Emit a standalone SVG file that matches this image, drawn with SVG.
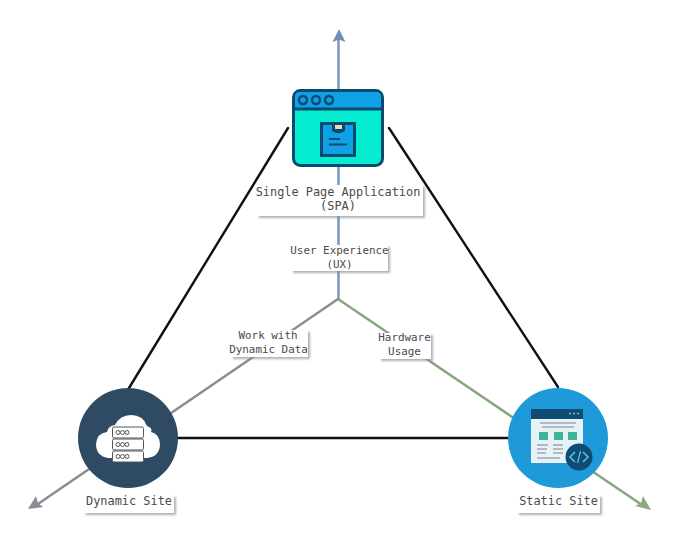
<svg xmlns="http://www.w3.org/2000/svg" width="683" height="543" viewBox="0 0 683 543">
<defs>
<filter id="sh" x="-10%" y="-20%" width="125%" height="150%"><feDropShadow dx="2" dy="2" stdDeviation="1" flood-color="#8a8f99" flood-opacity="0.7"/></filter>
</defs>
<style>
.lab{fill:#fff;filter:url(#sh)}
text{font-family:"DejaVu Sans Mono","Liberation Mono",monospace;font-size:10.900px;fill:#4a4a4a;text-anchor:middle}
text.big{font-size:11.900px}
.blk{stroke:#111;stroke-width:2.400;fill:none;stroke-linecap:round}
</style>
<rect width="683" height="543" fill="#fff"/>
<g id="connectors" fill="none">
<path class="blk" d="M288 128 L129 388"/>
<path class="blk" d="M389 128 L558 387"/>
<path class="blk" d="M178 438 L508 438"/>
<path d="M338.500 300 V38" stroke="#7f9cbb" stroke-width="2.600"/>
<path d="M338 299 L35 506" stroke="#8b8b93" stroke-width="2.400"/>
<path d="M338 299 L645 507" stroke="#86a47e" stroke-width="2.400"/>
<path d="M339 29 L345.500 42 L339 39.500 L332.500 42Z" fill="#6f8fb0"/>
<path d="M28 509 L43 507 L38 503 L36 496Z" fill="#8b8b93"/>
<path d="M651 510 L643 496 L641 503 L635 506Z" fill="#8fa884"/>
</g>
<g id="spa">
<rect x="293.500" y="90.500" width="89" height="75" rx="7" fill="#05ecd0" stroke="#0b4a70" stroke-width="3"/>
<path d="M295 108 V97 Q295 92 300 92 H376 Q381 92 381 97 V108Z" fill="#10a0e6"/>
<path d="M294 109 H382" stroke="#0b4a70" stroke-width="3"/>
<g fill="none" stroke="#0b4a70" stroke-width="2.500"><circle cx="303" cy="100" r="4"/><circle cx="316" cy="100" r="4"/><circle cx="329" cy="100" r="4"/></g>
<rect x="321.500" y="123.500" width="33" height="32" fill="#10a0e6" stroke="#0b4a70" stroke-width="3"/>
<path d="M332 123 H345 V131 L341 133 H336 L332 131Z" fill="#0b4a70"/>
<rect x="335" y="125" width="7" height="4" fill="#e8dcae"/>
<path d="M329 139 H340 M329 144.500 H347" stroke="#0b4a70" stroke-width="2"/>
<rect class="lab" x="257" y="185" width="166" height="31"/>
<text class="big" x="338" y="196">Single Page Application</text>
<text class="big" x="338" y="210">(SPA)</text>
</g>
<g id="ux">
<rect class="lab" x="291" y="245" width="97" height="26"/>
<text x="339.500" y="254">User Experience</text>
<text x="339.500" y="268">(UX)</text>
</g>
<g id="work">
<rect class="lab" x="231" y="330" width="77" height="27"/>
<text x="268" y="339">Work with</text>
<text x="268.500" y="353">Dynamic Data</text>
</g>
<g id="hardware">
<rect class="lab" x="379" y="333" width="52" height="26"/>
<text x="404.500" y="341">Hardware</text>
<text x="404.500" y="355">Usage</text>
</g>
<g id="dynamic">
<circle cx="128" cy="438" r="50" fill="#2f4b63"/>
<path d="M108 458 Q96 456 96 444 Q97 433 107 432 Q108 426 115 425 Q120 415 131 415 Q143 415 147 426 Q153 428 151 432 Q160 434 160 445 Q159 457 147 458Z" fill="#fff"/>
<g fill="#fff" stroke="#555" stroke-width="1"><rect x="112.500" y="427" width="31" height="11" rx="1.500"/><rect x="112.500" y="439" width="31" height="11" rx="1.500"/><rect x="112.500" y="451" width="31" height="11" rx="1.500"/>
<circle cx="118" cy="432.500" r="2"/><circle cx="122.500" cy="432.500" r="2"/><circle cx="127" cy="432.500" r="2"/><circle cx="118" cy="444.500" r="2"/><circle cx="122.500" cy="444.500" r="2"/><circle cx="127" cy="444.500" r="2"/><circle cx="118" cy="456.500" r="2"/><circle cx="122.500" cy="456.500" r="2"/><circle cx="127" cy="456.500" r="2"/></g>
<rect class="lab" x="84" y="495" width="90" height="18"/>
<text class="big" x="129" y="505">Dynamic Site</text>
</g>
<g id="static">
<circle cx="558" cy="438" r="50" fill="#1f9ad8"/>
<rect x="531" y="409" width="52" height="54" fill="#e8f1f5"/>
<rect x="531" y="409" width="52" height="10" fill="#0d4c74"/>
<g fill="#3cb39b"><rect x="539" y="432" width="9" height="8"/><rect x="554" y="432" width="9" height="8"/><rect x="568" y="432" width="9" height="8"/></g>
<path d="M540 423 H576 M542 427 H574 M537 445 H548 M553 445 H563 M537 449 H547 M553 449 H563 M537 453 H546 M553 453 H563 M537 458 H560" stroke="#9aa9b3" stroke-width="1.500"/>
<path d="M569 413.500h2M573 413.500h2M577 413.500h2" stroke="#8fb4c9" stroke-width="1.500"/>
<circle cx="579" cy="457" r="13.500" fill="#0d4c74"/>
<path d="M575 452 L570 457 L575 462 M583 452 L588 457 L583 462" fill="none" stroke="#5cc3dc" stroke-width="1.600"/>
<path d="M580.500 451 L577.500 463" stroke="#5cc3dc" stroke-width="1.300"/>
<rect class="lab" x="517" y="495" width="83" height="18"/>
<text class="big" x="558.500" y="505">Static Site</text>
</g>
</svg>
